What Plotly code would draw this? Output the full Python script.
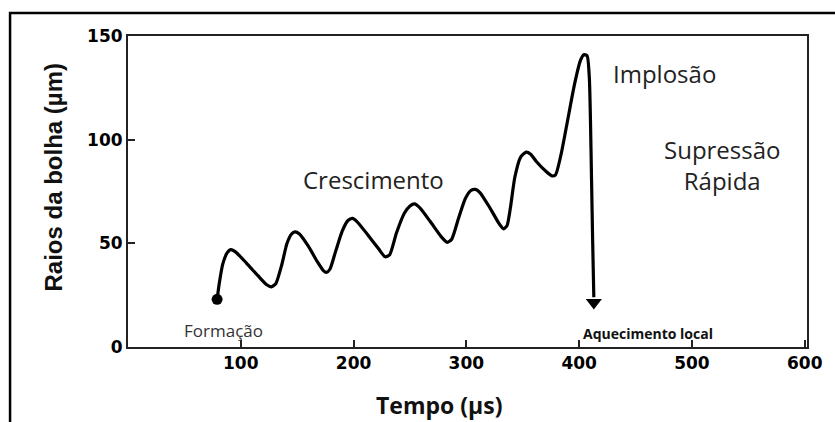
import plotly.graph_objects as go

# Bubble radius (µm) vs time (µs)
tempo = [79, 81, 84, 88, 91, 95, 105, 115, 123, 127, 131, 136, 141, 145, 148, 152,
         160, 168, 173, 176, 179, 184, 190, 195, 199, 203, 212, 222, 228, 232,
         238, 245, 250, 254, 259, 268, 278, 283, 287, 293, 299, 304, 308, 312,
         321, 329, 333, 336, 339, 343, 348, 353, 357, 362, 371, 376, 379, 384,
         390, 396, 401, 404, 407, 409, 410, 411, 412, 413]
raio = [23, 31, 40, 45.5, 47, 46, 40.5, 34.5, 30, 29, 30.5, 39, 50, 54.5, 55.5, 54.5,
        48.5, 41, 37, 36, 37.5, 46, 56, 61, 62, 60.5, 54.5, 47.5, 43.5, 44.5,
        55, 64.5, 68, 69, 67, 60.5, 53, 50.5, 52, 62, 71.5, 75.5, 76, 74.5,
        67, 59.5, 57, 58.5, 67, 82, 91.5, 94, 93, 89.5, 84.5, 82.5, 83, 93,
        110, 127, 138, 141, 140.5, 130, 110, 80, 50, 24]

formacao = {"x": [tempo[0]], "y": [raio[0]]}
seta = {"x": [413], "y": [21.5]}

xticks = [100, 200, 300, 400, 500, 600]
yticks = [0, 50, 100, 150]

fig = go.Figure()
fig.add_trace(go.Scatter(x=tempo, y=raio, mode="lines", line=dict(color="black", width=3.2, shape="spline", smoothing=0.6),
                         hoverinfo="skip", showlegend=False))
fig.add_trace(go.Scatter(x=formacao["x"], y=formacao["y"], mode="markers",
                         marker=dict(color="black", size=11, symbol="circle"), showlegend=False))
fig.add_trace(go.Scatter(x=seta["x"], y=seta["y"], mode="markers",
                         marker=dict(color="black", size=14, symbol="triangle-down"), showlegend=False))

axis_common = dict(showline=True, linecolor="#222", linewidth=2, mirror=True, ticks="inside",
                   tickcolor="#222", tickwidth=2, ticklen=7, showgrid=False, zeroline=False,
                   tickfont=dict(family="DejaVu Sans", size=17, color="black", weight="bold"))
fig.update_xaxes(range=[0, 602], tickvals=xticks, ticktext=[str(v) for v in xticks], **axis_common)
fig.update_yaxes(range=[0, 150], tickvals=yticks, ticktext=[str(v) for v in yticks], **axis_common)

txt = "#222"
anns = [
    dict(x=476, y=132, text="Implosão", font=dict(family="Open Sans", size=24, color=txt)),
    dict(x=527, y=88, text="Supressão<br>Rápida", font=dict(family="Open Sans", size=24, color=txt)),
    dict(x=218, y=81, text="Crescimento", font=dict(family="Open Sans", size=24, color=txt)),
    dict(x=85, y=8.2, text="Formação", font=dict(family="Open Sans", size=17, color="#333")),
    dict(x=461, y=6.3, text="<b>Aquecimento local</b>", font=dict(family="Open Sans", size=14, color="#111")),
]
for a in anns:
    a.update(xref="x", yref="y", showarrow=False, xanchor="center", yanchor="middle")
anns.append(dict(x=0.458, y=-0.186, xref="paper", yref="paper", showarrow=False, text="<b>Tempo (µs)</b>",
                 font=dict(family="Open Sans", size=23, color="#111"), xanchor="center", yanchor="middle"))
anns.append(dict(x=-0.1095, y=0.547, xref="paper", yref="paper", showarrow=False, text="<b>Raios da bolha (µm)</b>",
                 textangle=-90, font=dict(family="Liberation Sans", size=24, color="#111"),
                 xanchor="center", yanchor="middle"))

fig.update_layout(
    width=835, height=422,
    margin=dict(l=128, r=22, t=36, b=75),
    plot_bgcolor="white", paper_bgcolor="white",
    annotations=anns,
    shapes=[dict(type="rect", xref="paper", yref="paper", x0=-0.1737, x1=1.05, y0=-0.3, y1=1.074,
                 line=dict(color="black", width=2.5), fillcolor="rgba(0,0,0,0)", layer="above")],
)
fig.write_html("out.html")
